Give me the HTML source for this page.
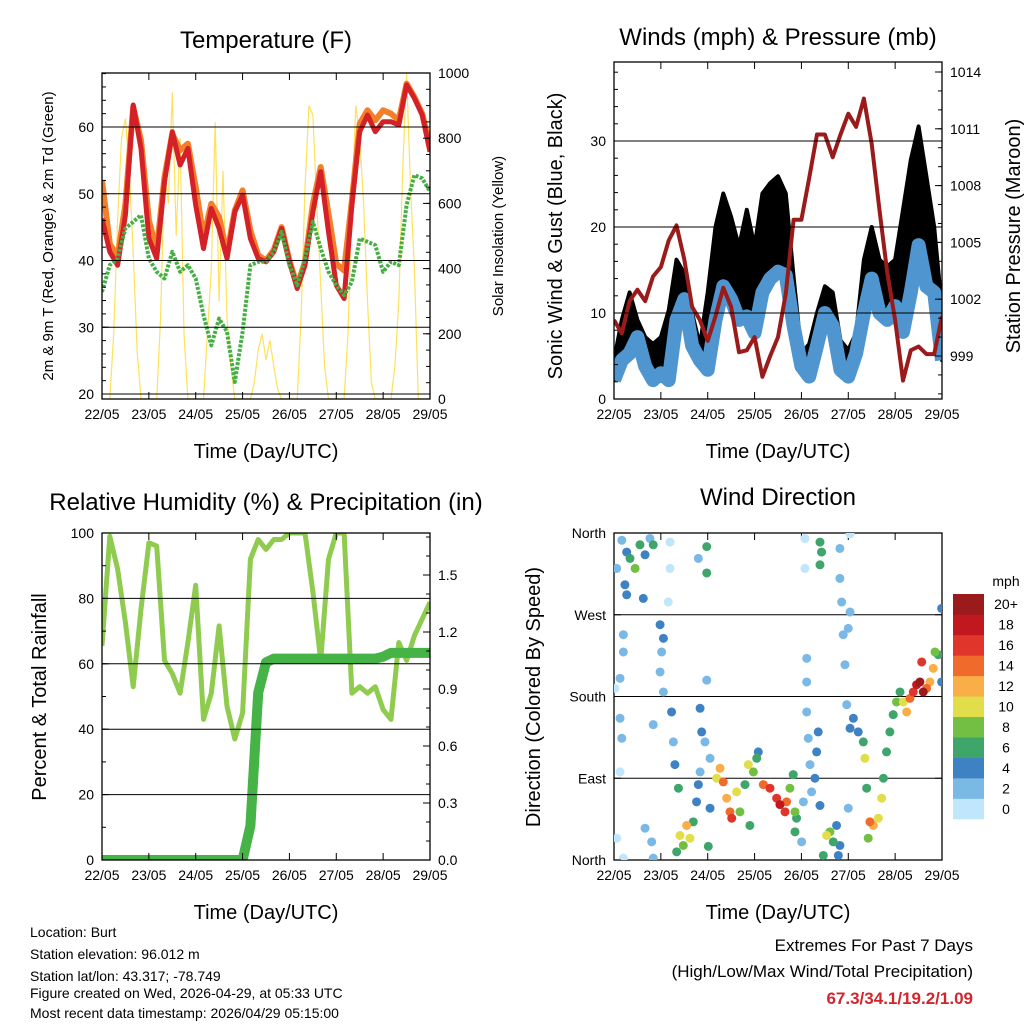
<!DOCTYPE html>
<html><head><meta charset="utf-8"><style>
body{margin:0;background:#fff;}
svg{display:block;font-family:"Liberation Sans",Arial,sans-serif;}
</style></head><body>
<svg id="s" width="1024" height="1024" viewBox="0 0 1024 1024">
<defs>
<clipPath id="c1"><rect x="102" y="73" width="328" height="326"/></clipPath>
<clipPath id="c2"><rect x="614" y="62" width="328" height="337"/></clipPath>
<clipPath id="c3"><rect x="102" y="533" width="328" height="327"/></clipPath>
<clipPath id="c4"><rect x="614" y="533" width="328" height="327"/></clipPath>
</defs>
<g id="g1"></g>
<g id="g2"></g>
<g id="g3"></g>
<g id="g4"></g>
<g font-size="14" fill="#000">
<text x="30" y="937">Location: Burt</text>
<text x="30" y="959">Station elevation: 96.012 m</text>
<text x="30" y="981">Station lat/lon: 43.317; -78.749</text>
<text x="30" y="998">Figure created on Wed, 2026-04-29, at 05:33 UTC</text>
<text x="30" y="1018">Most recent data timestamp: 2026/04/29 05:15:00</text>
</g>
<g text-anchor="end" font-size="17">
<text x="973" y="951">Extremes For Past 7 Days</text>
<text x="973" y="977">(High/Low/Max Wind/Total Precipitation)</text>
<text x="973" y="1004" font-weight="bold" fill="#d0262c">67.3/34.1/19.2/1.09</text>
</g>
</svg>
<script>
// ---- data (time step 4h from 22/05 00 UTC, 0..168h) ----
const dayLabels=["22/05","23/05","24/05","25/05","26/05","27/05","28/05","29/05"];
const tempRed=[46.3,41.3,39.3,46.8,63.3,56.8,43.3,40.3,51.8,59.3,54.3,56.8,48.3,41.8,47.8,44.8,40.3,47.3,49.8,43.3,40.3,39.8,41.3,44.8,39.8,35.8,39.3,47.3,53.3,44.3,36.3,34.3,48.3,59.3,61.8,59.3,60.8,60.8,60.3,66.3,64.3,61.8,56.3];
const tempOrange=[52,42.5,40.5,48.5,63,58,46,41.5,52.5,59,56.5,57.5,51,43.5,48.5,46.5,41,47.5,50.5,44.5,40.8,40,41.6,45,40,36.2,39.8,48.5,54,47,39.5,38.5,49,60.5,62.5,61,62.5,62,61,66.5,64.5,62,57];
const dewGreen=[35.3,39.3,40.3,44.8,45.8,46.8,40.3,38.3,37.3,41.3,38.3,39.3,37.3,31.8,27.3,31.3,29.3,21.8,29.3,39.3,39.8,39.8,41.3,44.3,39.3,36.3,40.3,45.8,41.8,38.3,36.3,34.8,36.8,43.3,42.8,42.3,38.3,39.8,39.3,48.3,52.8,52.3,50.3];
// solar at 2h steps
const solar=[0,0,0,200,550,800,860,700,450,150,0,0, 0,0,0,250,700,600,940,500,800,200,0,0, 0,0,0,200,400,850,300,700,250,100,0,0, 0,0,0,50,150,200,120,180,100,30,0,0, 0,0,0,250,650,900,870,600,350,100,0,0, 0,0,0,200,600,900,800,600,300,50,0,0, 0,0,0,100,300,700,1000,650,400,0,0,0, 0];
const pressure=[1000.9,1000.2,1001.9,1002.5,1001.9,1003.2,1003.7,1005.1,1005.9,1004.1,1001.6,1000.9,999.8,1001.1,1002.6,1001.6,999.2,999.3,1000,997.9,999,1000,1002.3,1006.2,1006.2,1008.4,1010.7,1010.7,1009.5,1010.7,1011.8,1011.1,1012.6,1010.2,1006.7,1003.4,1000.9,997.7,999.3,999.5,999.1,999.1,1001.1];
const windSpeed=[2.2,4.5,5.3,7.2,3.8,2.2,3,2.2,9.2,11.6,6.2,4.5,3.4,9.2,13.1,11.6,9.2,9.6,7.7,12.4,14,14.8,14.4,8.5,3.8,2.6,6.2,10,8.5,3.4,2.6,5.3,10,14,10,9.2,10.8,7.8,12.4,17.9,13.1,12.4,4.5];
const windGust=[4.5,9.2,12.4,9.2,7.2,6.4,7.2,10.3,16.2,14.6,10,6.2,12.4,20,23.9,21.2,17.7,22,17.7,23.9,25.1,25.9,23.9,14.2,5.3,6.4,10,13.1,12.4,6.8,5.7,7.7,16.2,20,16.2,15.4,16.2,22,27.8,31.7,25.9,20,10.3];
const rh=[65.5,99,89,72.7,53,76.7,97,96,61,57,51,66.5,84,43,51,71.6,47,37,45,92,98,95,98,98,100,100,100,82,61,92,100,100,51,53,51,53,46,43,66.5,61,68.6,73.7,78.8];
const precip=[0,0,0,0,0,0,0,0,0,0,0,0,0,0,0,0,0,0,0,0.18,0.88,1.04,1.06,1.06,1.06,1.06,1.06,1.06,1.06,1.06,1.06,1.06,1.06,1.06,1.06,1.06,1.07,1.09,1.09,1.09,1.09,1.09,1.09];
// wind direction scatter: hours, degrees, mph
const wdTime=[6.5,8.2,10.8,13.3,15.9,5.6,6.5,18.4,20.1,15,1.4,4,4.8,4.8,3.1,0.5,3.1,4,3.1,1.4,4.8,23.6,25.3,24.4,23.6,25.3,20.1,19.3,15.9,20.1,28.7,28.7,27.8,29.5,30.4,31.2,33,33.8,37.2,38.9,35.5,40.6,32.1,43.2,42.3,43.2,47.5,47.5,47.5,44.1,44.9,46.6,44.1,49.2,49.2,48.3,52.6,54.3,56,57.7,59.4,60.3,62.8,64.5,67.1,68.8,71.4,73.1,73.9,69.6,76.5,79.9,83.3,85,87.6,88.4,90.1,91.8,92.7,92.7,93.5,97.8,97.8,98.7,98.7,98.7,99.5,100.4,101.2,102.9,103.8,104.6,97,96.1,105.5,105.5,106.3,105.5,108.9,110.6,112.3,114,115.7,114.9,107.2,115.7,115.7,116.6,117.4,118.3,119.2,120.9,122.6,125.1,127.7,128.5,120,120.9,120,120.9,129.4,131.1,132.8,135.4,130.2,137.1,138,139.6,141.3,143,144.7,146.5,148.2,149.9,151.6,153.3,155,156.7,157.6,158.4,160.1,161.8,163.5,164.4,166.1,167.8,167.8];
const wdDir=[339,332,321,347,336,303,292,354,347,288,321,352,248,229,200,189,156,134,97,24,2,259,244,229,207,185,149,20,35,2,350,321,284,163,130,105,79,27,38,24,16,42,9,83,64,332,345,316,198,167,141,130,97,112,57,15,90,101,86,68,53,46,75,53,83,105,97,112,119,38,83,79,68,61,53,64,79,94,53,31,46,321,354,222,196,163,134,105,75,90,119,141,64,20,60,350,339,325,27,31,20,38,16,5,5,343,310,284,248,215,171,145,156,141,130,112,57,273,255,359,79,42,38,46,24,68,90,119,141,160,174,185,174,163,178,185,193,196,218,185,189,196,211,229,226,196,277];
const wdSpeed=[5,6,8,6,4,4,4,3,6,4,2,2,2,2,2,1,2,2,1,1,1,4,4,3,2,2,2,3,2,2,1,1,1,4,3,4,6,10,12,10,8,6,6,4,4,3,7,6,3,4,4,3,2,3,4,6,10,12,14,12,14,16,10,8,6,10,8,6,4,6,14,16,16,18,16,14,8,6,8,6,6,1,1,2,2,2,3,2,3,4,4,4,2,2,4,6,6,6,10,8,6,4,4,4,6,2,3,3,2,2,2,4,4,4,6,10,2,3,3,1,6,14,12,10,8,10,7,6,6,6,8,7,10,12,14,16,18,20,16,20,14,12,12,8,6,4,4];
const speedColors=["#bfe6fb","#7ab8e6","#3f82c3","#3ea56b","#72bf44","#e2dd4b","#f9ae48","#f06a2b","#e0352a","#c1181f","#9b1a1c"];
const speedLabels=["0","2","4","6","8","10","12","14","16","18","20+"];

const NS="http://www.w3.org/2000/svg";
function mk(parent,tag,attrs){const e=document.createElementNS(NS,tag);for(const k in attrs)e.setAttribute(k,attrs[k]);parent.appendChild(e);return e;}
function txt(parent,x,y,s,size,anchor,rot){const t=mk(parent,'text',{x:x,y:y,'font-size':size,'text-anchor':anchor||'middle'});if(rot)t.setAttribute('transform','rotate(-90 '+x+' '+y+')');t.textContent=s;return t;}
function axisX(x0,x1){return t=>x0+(t/168)*(x1-x0);}
function lin(v0,v1,p0,p1){return v=>p0+(v-v0)/(v1-v0)*(p1-p0);}
function pts(xs,ys){return xs.map((x,i)=>x.toFixed(1)+','+ys[i].toFixed(1)).join(' ');}

function frame(g,L,T,R,B,gridYs,title,titleY){
  for(const y of gridYs){const l=mk(g,'line',{x1:L,x2:R,y1:y,y2:y,stroke:'#000','stroke-width':1});}
  const r=mk(g,'rect',{x:L,y:T,width:R-L,height:B-T,fill:'none',stroke:'#000','stroke-width':1.3});
  
  const X=axisX(L,R);
  for(let d=0;d<8;d++){const x=X(d*24);
    mk(g,'line',{x1:x,x2:x,y1:B,y2:B-7,stroke:'#000'});mk(g,'line',{x1:x,x2:x,y1:T,y2:T+7,stroke:'#000'});
    const t=txt(g,x,B+20,dayLabels[d],14);}
  const xt=txt(g,(L+R)/2,B+59,'Time (Day/UTC)',20);
  const tt=txt(g,(L+R)/2,titleY,title,24);
}
function yTicks(g,x,vals,Y,side,fmt,minorVals){
  for(const v of minorVals){const y=Y(v);mk(g,'line',{x1:x,x2:x+(side<0?4:-4),y1:y,y2:y,stroke:'#000'});}
  for(const v of vals){const y=Y(v);mk(g,'line',{x1:x,x2:x+(side<0?7:-7),y1:y,y2:y,stroke:'#000'});
    const t=txt(g,x+(side<0?-8:8),y+5,fmt(v),14,side<0?'end':'start');}
}
const t4=tempRed.map((_,i)=>i*4), t2=solar.map((_,i)=>i*2);
function range(a,b,s){const r=[];for(let v=a;v<=b+1e-9;v+=s)r.push(+v.toFixed(4));return r;}

// Panel 1
(function(){const g=document.getElementById('g1');const L=102,R=430,T=73,B=399;
 const X=axisX(L,R),Y=lin(20,60,394,127),S=lin(0,1000,399,73);
 const c=mk(g,'g',{'clip-path':'url(#c1)'});
 let p=mk(c,'polyline',{points:pts(t2.map(X),solar.map(S)),fill:'none',stroke:'#fde25a','stroke-width':1.2});
 p=mk(c,'polyline',{points:pts(t4.map(X),tempOrange.map(Y)),fill:'none',stroke:'#f47f2a','stroke-width':6,'stroke-linejoin':'round'});
 p=mk(c,'polyline',{points:pts(t4.map(X),tempRed.map(Y)),fill:'none',stroke:'#d42027','stroke-width':5,'stroke-linejoin':'round'});
 p=mk(c,'polyline',{points:pts(t4.map(X),dewGreen.map(Y)),fill:'none',stroke:'#44b044','stroke-width':4,'stroke-dasharray':'3 1.5','stroke-linejoin':'round'});
 frame(g,L,T,R,B,[20,30,40,50,60].map(Y),'Temperature (F)',48);
 yTicks(g,L,[20,30,40,50,60],Y,-1,v=>v,range(20,68,2));
 yTicks(g,R,[0,200,400,600,800,1000],S,1,v=>v,range(0,1000,50));
 let a=txt(g,53,236,'2m & 9m T (Red, Orange) & 2m Td (Green)',15,'middle',1);
 a=txt(g,503,236,'Solar Insolation (Yellow)',15,'middle',1);
})();

// Panel 2
(function(){const g=document.getElementById('g2');const L=614,R=942,T=62,B=399;
 const X=axisX(L,R),Y=lin(0,10,399,313),P=lin(999,1014,356,72);
 const c=mk(g,'g',{'clip-path':'url(#c2)'});
 const xs=t4.map(X);
 let p=mk(c,'polygon',{points:pts(xs,windGust.map(Y))+' '+pts(xs.slice().reverse(),windSpeed.map(Y).reverse()),fill:'#000',stroke:'#000','stroke-width':4,'stroke-linejoin':'round'});
 p=mk(c,'polyline',{points:pts(xs,windSpeed.map(Y)),fill:'none',stroke:'#4f96d0','stroke-width':14,'stroke-linejoin':'round'});
 p=mk(c,'polyline',{points:pts(xs,pressure.map(P)),fill:'none',stroke:'#9b1b1b','stroke-width':4,'stroke-linejoin':'round'});
 frame(g,L,T,R,B,[10,20,30].map(Y),'Winds (mph) & Pressure (mb)',45);
 yTicks(g,L,[0,10,20,30],Y,-1,v=>v,range(0,38,2));
 yTicks(g,R,[999,1002,1005,1008,1011,1014],P,1,v=>v,range(997,1014,1));
 let a=txt(g,562,236,'Sonic Wind & Gust (Blue, Black)',20,'middle',1);
 a=txt(g,1020,236,'Station Pressure (Maroon)',20,'middle',1);
})();

// Panel 3
(function(){const g=document.getElementById('g3');const L=102,R=430,T=533,B=860;
 const X=axisX(L,R),Y=lin(0,100,860,533),Q=lin(0,0.3,860,803);
 const c=mk(g,'g',{'clip-path':'url(#c3)'});
 let p=mk(c,'polyline',{points:pts(t4.map(X),rh.map(Y)),fill:'none',stroke:'#8fcb4f','stroke-width':5,'stroke-linejoin':'round'});
 p=mk(c,'polyline',{points:pts(t4.map(X),precip.map(Q)),fill:'none',stroke:'#46b346','stroke-width':10,'stroke-linejoin':'round','stroke-linecap':'round'});
 frame(g,L,T,R,B,[20,40,60,80].map(Y),'Relative Humidity (%) & Precipitation (in)',510);
 yTicks(g,L,[0,20,40,60,80,100],Y,-1,v=>v,range(0,100,10));
 yTicks(g,R,[0,0.3,0.6,0.9,1.2,1.5],Q,1,v=>v.toFixed(1),range(0,1.7,0.1));
 let a=txt(g,46,697,'Percent & Total Rainfall',20,'middle',1);
})();

// Panel 4
(function(){const g=document.getElementById('g4');const L=614,R=942,T=533,B=860;
 const X=axisX(L,R),Y=lin(0,360,860,533);
 frame(g,L,T,R,B,[90,180,270].map(Y),'Wind Direction',505);
 const c=mk(g,'g',{'clip-path':'url(#c4)'});
 const order=wdSpeed.map((s,i)=>i).sort((a,b)=>wdSpeed[a]-wdSpeed[b]);
 for(const i of order){const bin=Math.min(10,Math.floor(wdSpeed[i]/2));
  const d=mk(c,'circle',{cx:X(wdTime[i]),cy:Y(wdDir[i]),r:4.5,fill:speedColors[bin]});
  
  }
 const lab=[[0,'North'],[90,'East'],[180,'South'],[270,'West'],[360,'North']];
 for(const [v,s] of lab){const y=Y(v);mk(g,'line',{x1:L,x2:L+7,y1:y,y2:y,stroke:'#000'});mk(g,'line',{x1:R,x2:R-7,y1:y,y2:y,stroke:'#000'});
  const t=txt(g,L-8,y+5,s,14,'end');}
 let a=txt(g,540,697,'Direction (Colored By Speed)',20,'middle',1);
 // colorbar
 const cb=mk(document.getElementById('s'),'g',{});
 
 const h=225/11;
 for(let k=0;k<11;k++){const y=819-(k+1)*h;
  mk(cb,'rect',{x:953,y:y,width:31,height:h+0.3,fill:speedColors[k]});
  const t=txt(cb,1006,y+h/2+5,speedLabels[k],14,'middle');}
 const u=txt(cb,1006,586,'mph',14,'middle');
})();
</script>
</body></html>
